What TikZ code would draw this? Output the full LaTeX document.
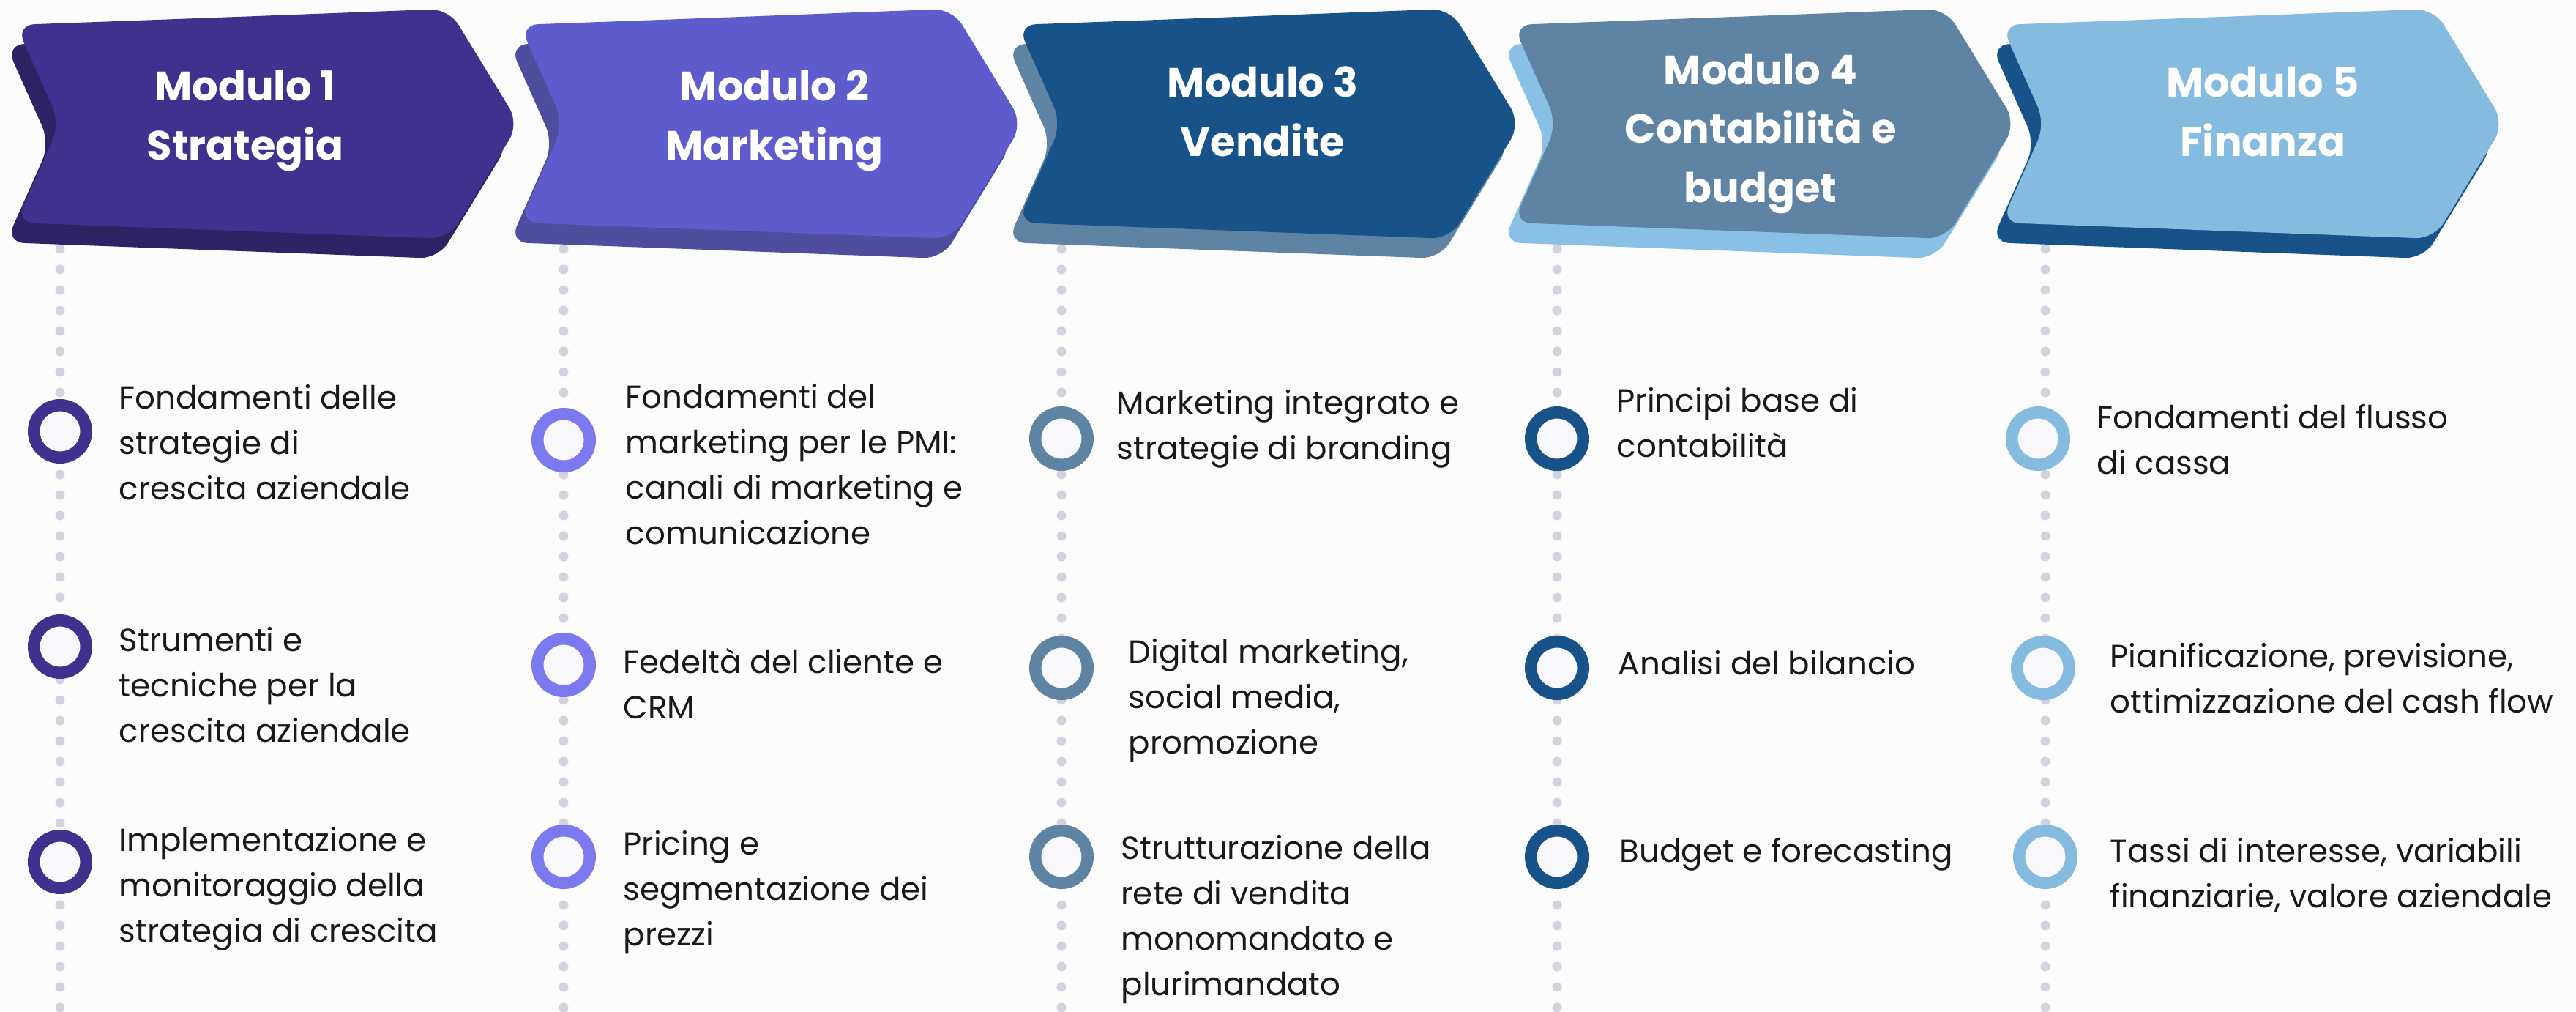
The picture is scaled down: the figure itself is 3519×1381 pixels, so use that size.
\documentclass[tikz,border=0pt]{standalone}
\usepackage{fontspec}
\setmainfont{Poppins}
\usetikzlibrary{calc}
\definecolor{indigo}{HTML}{41318F}
\definecolor{indigodk}{HTML}{2F2366}
\definecolor{violet}{HTML}{5E5CCC}
\definecolor{violetdk}{HTML}{4E4D9E}
\definecolor{violetlt}{HTML}{7B79EE}
\definecolor{navy}{HTML}{175389}
\definecolor{slate}{HTML}{5F83A2}
\definecolor{sky}{HTML}{85BBDF}
\definecolor{skylt}{HTML}{88C0E6}
\definecolor{dotgrey}{HTML}{D3D3DF}
\definecolor{ringfill}{HTML}{F8F8FD}
\definecolor{bgcol}{HTML}{FDFCFD}
\def\chevron[#1][#2](#3){
	\fill[#2,shift={(#3-14,27)},rounded corners=2.5mm] (240,23) -- (529,12) -- (625,169) -- (529,326) -- (-62,304) -- (-2,169) -- (-62,34) -- cycle;
	\fill[#1,shift={(#3,0)},rounded corners=2.5mm] (240,23) -- (529,12) -- (625,169) -- (529,326) -- (-62,304) -- (-2,169) -- (-62,34) -- cycle;}

\begin{document}
\begin{tikzpicture}[x=0.1mm,y=-0.1mm,
		dotline/.style={dotgrey,line width=1.3mm,line cap=round,dash pattern=on 0pt off 2.8mm},
		ring/.style={circle,draw=#1,fill=ringfill,line width=1.65mm,minimum size=7.15mm,inner sep=0pt},
		title/.style={white,font=\fontsize{15.9pt}{22.8pt}\selectfont\bfseries,align=center,anchor=base,inner sep=0pt},
		item/.style={text=black!90,font=\fontsize{12.4pt}{17.6pt}\selectfont,align=left,anchor=base west,inner sep=0pt}]
	%%%%% background %%%%%
	\fill[bgcol] (0,0) rectangle (3519,1381);
	\useasboundingbox (0,0) rectangle (3519,1381);
	
	%dotted rails
	\coordinate (d1t) at (82,340);   \coordinate (d1b) at (82,1400);
	\coordinate (d2t) at (770,340);  \coordinate (d2b) at (770,1400);
	\coordinate (d3t) at (1450,340); \coordinate (d3b) at (1450,1400);
	\coordinate (d4t) at (2127,340); \coordinate (d4b) at (2127,1400);
	\coordinate (d5t) at (2794,340); \coordinate (d5b) at (2794,1400);
	\draw[dotline] (d1t) -- (d1b);
	\draw[dotline] (d2t) -- (d2b);
	\draw[dotline] (d3t) -- (d3b);
	\draw[dotline] (d4t) -- (d4b);
	\draw[dotline] (d5t) -- (d5b);
	
	%chevrons
	\chevron[indigo][indigodk](84)
	\chevron[violet][violetdk](772)
	\chevron[navy][slate](1452)
	\chevron[slate][skylt](2129)
	\chevron[sky][navy](2796)
	
	%titles (placed on last baseline)
	\node[title] (m1) at (335,218) {Modulo 1\\Strategia};
	\node[title] (m2) at (1058,218) {Modulo 2\\Marketing};
	\node[title] (m3) at (1725,213) {Modulo 3\\Vendite};
	\node[title] (m4) at (2405,276) {Modulo 4\\Contabilità e\\budget};
	\node[title] (m5) at (3091,213) {Modulo 5\\Finanza};
	
	%column 1
	\node[ring=indigo] (s11) at (82,589) {};
	\node[ring=indigo] (s12) at (82,883) {};
	\node[ring=indigo] (s13) at (82,1177) {};
	\node[item] (t11) at (162,682) {Fondamenti delle\\strategie di\\crescita aziendale};
	\node[item] (t12) at (162,1013) {Strumenti e\\tecniche per la\\crescita aziendale};
	\node[item] (t13) at (162,1286) {Implementazione e\\monitoraggio della\\strategia di crescita};
	
	%column 2
	\node[ring=violetlt] (s21) at (770,601) {};
	\node[ring=violetlt] (s22) at (770,908) {};
	\node[ring=violetlt] (s23) at (770,1170) {};
	\node[item] (t21) at (854,743) {Fondamenti del\\marketing per le PMI:\\canali di marketing e\\comunicazione};
	\node[item] (t22) at (851,981) {Fedeltà del cliente e\\CRM};
	\node[item] (t23) at (851,1291) {Pricing e\\segmentazione dei\\prezzi};
	
	%column 3
	\node[ring=slate] (s31) at (1450,599) {};
	\node[ring=slate] (s32) at (1450,912) {};
	\node[ring=slate] (s33) at (1450,1170) {};
	\node[item] (t31) at (1525,627) {Marketing integrato e\\strategie di branding};
	\node[item] (t32) at (1541,1029) {Digital marketing,\\social media,\\promozione};
	\node[item] (t33) at (1531,1359) {Strutturazione della\\rete di vendita\\monomandato e\\plurimandato};
	
	%column 4
	\node[ring=navy] (s41) at (2127,599) {};
	\node[ring=navy] (s42) at (2127,912) {};
	\node[ring=navy] (s43) at (2127,1170) {};
	\node[item] (t41) at (2208,624) {Principi base di\\contabilità};
	\node[item] (t42) at (2210,921) {Analisi del bilancio};
	\node[item] (t43) at (2212,1177) {Budget e forecasting};
	
	%column 5
	\node[ring=sky] (s51) at (2784,599) {};
	\node[ring=sky] (s52) at (2791,912) {};
	\node[ring=sky] (s53) at (2794,1170) {};
	\node[item] (t51) at (2864,647) {Fondamenti del flusso\\di cassa};
	\node[item] (t52) at (2882,973) {Pianificazione, previsione,\\ottimizzazione del cash flow};
	\node[item] (t53) at (2882,1239) {Tassi di interesse, variabili\\finanziarie, valore aziendale};
\end{tikzpicture}
\end{document}
